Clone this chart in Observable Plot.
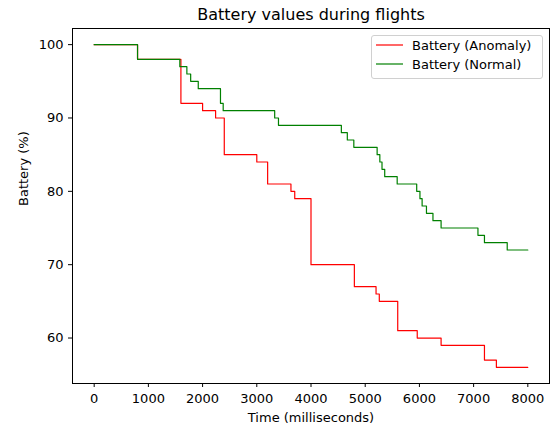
<!DOCTYPE html>
<html>
<head>
<meta charset="utf-8">
<script src="https://cdn.jsdelivr.net/npm/d3@7"></script>
<script src="https://cdn.jsdelivr.net/npm/@observablehq/plot@0.6"></script>
<style>
  body { margin: 0; background: #fff; font-family: "DejaVu Sans", sans-serif; }
  #wrap { position: relative; width: 554px; height: 427px; }
  #legend {
    position: absolute; left: 371px; top: 35px; width: 170px; height: 42px;
    border: 1px solid #d0d0d0; border-radius: 3px; background: rgba(255,255,255,0.8);
    font-family: "DejaVu Sans", sans-serif; font-size: 13px; color: #000;
  }
  .row { position: absolute; left: 0; height: 16px; display: flex; align-items: center; white-space: nowrap; }
  .row svg { margin-left: 4px; margin-right: 9px; }
</style>
</head>
<body>
<div id="wrap"></div>
<script>
const anomalyTime = [0, 800, 1600, 2000, 2240, 2400, 3000, 3200, 3630, 3700, 4000, 4800, 5200, 5260, 5600, 5960, 6400, 7200, 7420, 8000];
const anomalyBattery = [100, 98, 92, 91, 90, 85, 84, 81, 80, 79, 70, 67, 66, 65, 61, 60, 59, 57, 56, 56];

const normalTime = [0, 800, 1580, 1710, 1780, 1920, 2330, 2380, 3330, 3400, 4560, 4670, 4790, 5220, 5270, 5310, 5360, 5590, 5950, 6010, 6050, 6130, 6250, 6400, 7080, 7200, 7620, 8000];
const normalBattery = [100, 98, 97, 96, 95, 94, 92, 91, 90, 89, 88, 87, 86, 85, 84, 83, 82, 81, 80, 79, 78, 77, 76, 75, 74, 73, 72, 72];

const xTicks = [0, 1000, 2000, 3000, 4000, 5000, 6000, 7000, 8000];
const yTicks = [60, 70, 80, 90, 100];

const seriesNames = ["Battery (Anomaly)", "Battery (Normal)"];
const seriesColors = ["#ff0000", "#008000"];

const anomaly = anomalyTime.map((t, i) => ({t, b: anomalyBattery[i]}));
const normal = normalTime.map((t, i) => ({t, b: normalBattery[i]}));

const chart = Plot.plot({
  width: 554,
  height: 427,
  marginLeft: 72,
  marginRight: 5,
  marginTop: 28,
  marginBottom: 44,
  style: {fontFamily: "DejaVu Sans", fontSize: "13px", color: "#000", background: "#fff"},
  x: {domain: [-400, 8400]},
  y: {domain: [53.8, 102.2]},
  marks: [
    Plot.line(anomaly, {x: "t", y: "b", curve: "step-after", stroke: seriesColors[0], strokeWidth: 1.2}),
    Plot.line(normal, {x: "t", y: "b", curve: "step-after", stroke: seriesColors[1], strokeWidth: 1.2}),
    Plot.frame({stroke: "#000", strokeWidth: 1}),
    Plot.axisX({ticks: xTicks, tickSize: 4, tickPadding: 6, label: null, tickFormat: d => String(d), fontSize: 13}),
    Plot.axisY({ticks: yTicks, tickSize: 4, tickPadding: 5, label: null, tickFormat: d => String(d), fontSize: 13}),
    Plot.text(["Time (milliseconds)"], {frameAnchor: "bottom", lineAnchor: "middle", dy: 34.5, fontSize: 13, fill: "#000"}),
    Plot.text(["Battery (%)"], {frameAnchor: "left", lineAnchor: "middle", dx: -49, rotate: -90, fontSize: 13, fill: "#000"}),
    Plot.text(["Battery values during flights"], {frameAnchor: "top", lineAnchor: "middle", dy: -14, fontSize: 16, fill: "#000"})
  ]
});

const wrap = document.getElementById("wrap");
wrap.appendChild(chart);

const legend = document.createElement("div");
legend.id = "legend";
seriesNames.forEach((name, i) => {
  const row = document.createElement("div");
  row.className = "row";
  row.style.top = (1 + i * 19) + "px";
  row.innerHTML = `<svg width="27" height="4"><line x1="0" x2="27" y1="2" y2="2" stroke="${seriesColors[i]}" stroke-width="1.2"/></svg><span>${name}</span>`;
  legend.appendChild(row);
});
wrap.appendChild(legend);
</script>
</body>
</html>
